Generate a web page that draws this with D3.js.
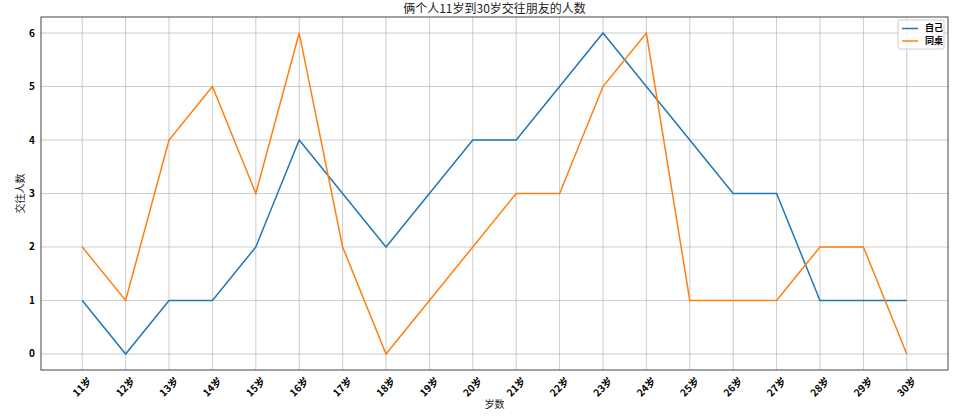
<!DOCTYPE html>
<html><head><meta charset="utf-8">
<script src="https://cdn.jsdelivr.net/npm/d3@7"></script>
<style>body{margin:0;background:#fff}svg{display:block;font-family:"Noto Sans CJK SC","Noto Sans",sans-serif}</style>
</head><body><svg id="c" width="958" height="417"></svg>
<script>
const ages = [11,12,13,14,15,16,17,18,19,20,21,22,23,24,25,26,27,28,29,30];
const ageLabels = ages.map(a => a + "岁");
const selfValues = [1,0,1,1,2,4,3,2,3,4,4,5,6,5,4,3,3,1,1,1];
const deskValues = [2,1,4,5,3,6,2,0,1,2,3,3,5,6,1,1,1,2,2,0];
const yTicks = [0,1,2,3,4,5,6];
const seriesNames = ["自己","同桌"];
const colors = ["#1f77b4","#ff7f0e"];

const svg = d3.select("#c");
const L=41, R=948, T=17, B=370;
const x = d3.scaleLinear().domain([10.05,30.95]).range([L,R]);
const y = d3.scaleLinear().domain([-0.3,6.3]).range([B,T]);

// grid
const g = svg.append("g");
g.selectAll(".vx").data(ages).join("line")
 .attr("x1",d=>x(d)).attr("x2",d=>x(d)).attr("y1",T).attr("y2",B)
 .attr("stroke","#b0b0b0").attr("stroke-width",0.8).attr("opacity",0.8);
g.selectAll(".hy").data(yTicks).join("line")
 .attr("x1",L).attr("x2",R).attr("y1",d=>y(d)).attr("y2",d=>y(d))
 .attr("stroke","#b0b0b0").attr("stroke-width",0.8).attr("opacity",0.8);

// lines
const line = d3.line().x((d,i)=>x(ages[i])).y(d=>y(d));
[selfValues, deskValues].forEach((vals,k)=>{
  svg.append("path").datum(vals).attr("d",line).attr("fill","none")
   .attr("stroke",colors[k]).attr("stroke-width",1.5);
});

// spines
svg.append("rect").attr("x",L).attr("y",T).attr("width",R-L).attr("height",B-T)
 .attr("fill","none").attr("stroke","#444").attr("stroke-width",1);

// y tick labels
svg.selectAll(".yt").data(yTicks).join("text")
 .attr("x",L-6).attr("y",d=>y(d)).attr("dy","0.35em").attr("text-anchor","end")
 .attr("font-size",10).attr("font-weight","bold").attr("fill","#000").text(d=>d);

// x tick labels
svg.selectAll(".xt").data(ages).join("text")
 .attr("transform",(d)=>`translate(${x(d)},${387}) rotate(-45)`)
 .attr("text-anchor","middle").attr("dy","0.35em")
 .attr("font-size",10).attr("font-weight","bold").attr("fill","#000")
 .text((d,i)=>ageLabels[i]);

// title and axis labels
svg.append("text").attr("x",(L+R)/2).attr("y",13).attr("text-anchor","middle")
 .attr("font-size",12).attr("fill","#222").text("俩个人11岁到30岁交往朋友的人数");
svg.append("text").attr("x",(L+R)/2).attr("y",408).attr("text-anchor","middle")
 .attr("font-size",10).attr("fill","#222").text("岁数");
svg.append("text").attr("transform",`translate(24,${(T+B)/2}) rotate(-90)`)
 .attr("text-anchor","middle").attr("font-size",10).attr("fill","#222").text("交往人数");

// legend
const lg = svg.append("g");
lg.append("rect").attr("x",898).attr("y",20).attr("width",46).attr("height",29).attr("rx",2)
 .attr("fill","#fff").attr("fill-opacity",0.8).attr("stroke","#ccc");
seriesNames.forEach((n,i)=>{
  const yy = 28.5 + i*12.5;
  lg.append("line").attr("x1",902).attr("x2",918).attr("y1",yy).attr("y2",yy)
   .attr("stroke",colors[i]).attr("stroke-width",1.5);
  lg.append("text").attr("x",925).attr("y",yy).attr("dy","0.33em")
   .attr("font-size",9).attr("font-weight","bold").attr("fill","#000").text(n);
});
</script></body></html>
